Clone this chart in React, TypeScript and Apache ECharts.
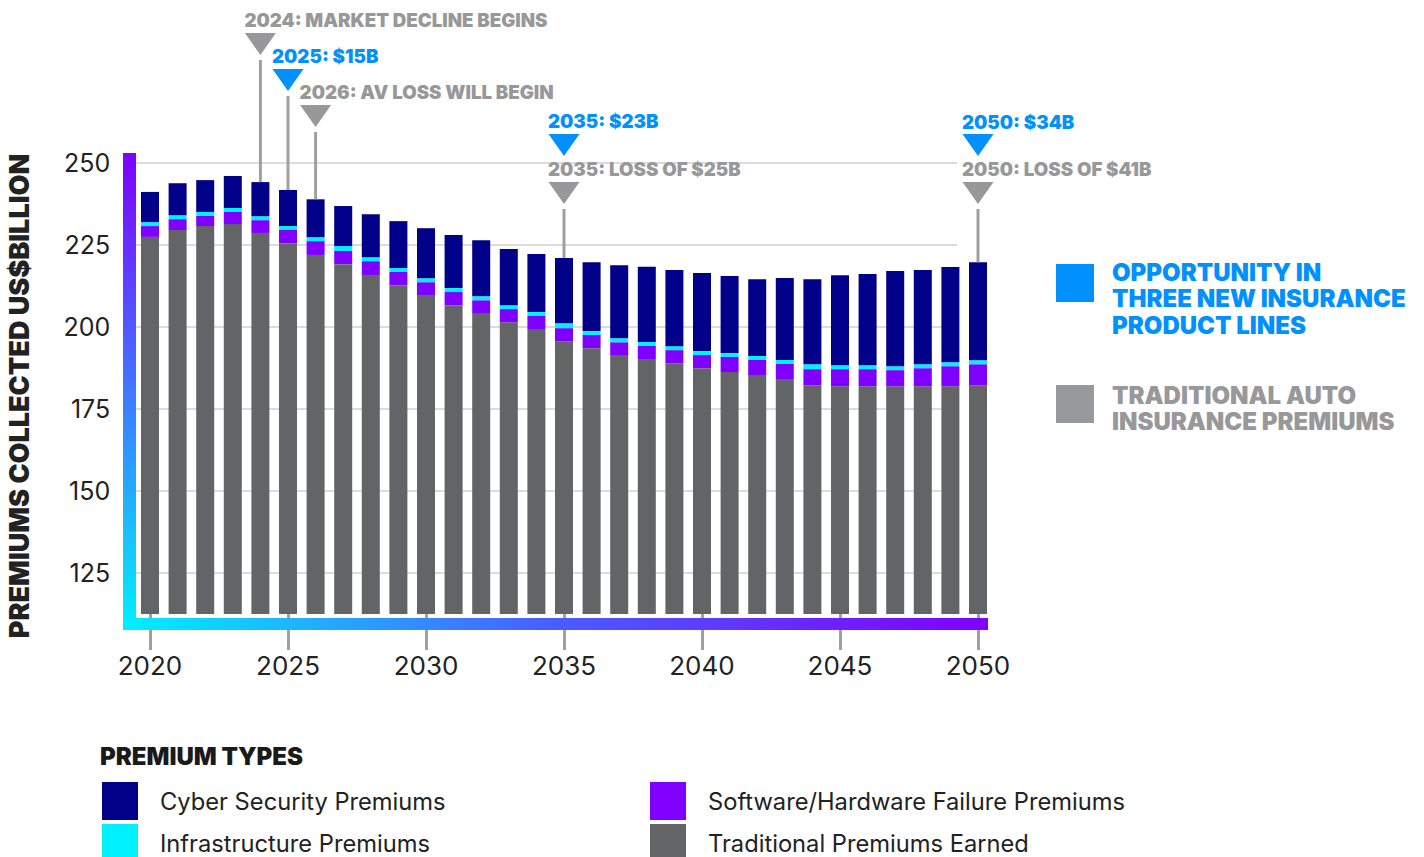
import React, { useEffect, useRef } from 'react';
import * as echarts from 'echarts';

const years = ['2020','2021','2022','2023','2024','2025','2026','2027','2028','2029','2030','2031','2032','2033','2034','2035','2036','2037','2038','2039','2040','2041','2042','2043','2044','2045','2046','2047','2048','2049','2050'];

const traditional = [227.4,229.5,230.7,231.3,228.6,225.5,221.9,219.1,215.8,212.7,209.7,206.6,204.2,201.4,199.3,195.6,193.5,191.4,190.2,188.9,187.4,186.2,185.3,184.1,182.2,181.9,181.9,181.9,181.9,181.9,182.2];
const software = [3.3,3.3,3.1,3.7,3.9,4.0,4.2,4.0,4.2,4.0,3.9,4.0,3.9,4.0,4.0,4.0,4.0,3.9,4.0,4.0,4.0,4.6,4.6,4.6,4.9,5.2,5.2,4.9,5.5,6.1,6.4];
const infrastructure = [1.2,1.2,1.2,1.2,1.2,1.2,1.2,1.5,1.2,1.2,1.2,1.2,1.2,1.2,1.2,1.5,1.2,1.2,1.2,1.2,1.2,1.2,1.2,1.2,1.5,1.2,1.2,1.2,1.2,1.2,1.2];
const cyber = [9.2,9.75,9.7,9.75,10.4,11.0,11.55,12.2,13.1,14.3,15.25,16.15,17.05,17.1,17.7,19.85,21.0,22.25,22.9,23.2,23.8,23.45,23.4,25.0,25.9,27.45,27.8,29.0,28.7,29.0,29.85];

const yTicks = [125, 150, 175, 200, 225, 250];
const xLabelStep = 5;

const seriesNames = ['Traditional Premiums Earned', 'Software/Hardware Failure Premiums', 'Infrastructure Premiums', 'Cyber Security Premiums'];

const annotYears = ['2024', '2025', '2026', '2035', '2035', '2050', '2050'];
const annotLabels = ['2024: MARKET DECLINE BEGINS', '2025: $15B', '2026: AV LOSS WILL BEGIN', '2035: $23B', '2035: LOSS OF $25B', '2050: $34B', '2050: LOSS OF $41B'];
const annotKinds = ['loss', 'opp', 'loss', 'opp', 'loss', 'opp', 'loss'];

// layout (pixels)
const annotTextY = [20, 56, 92, 121, 169, 122, 169];
const annotTriTop = [33, 69, 105, 134, 182, 134, 182];
// legend layout: [series index, left, top]
const legendSlots: [number, number, number][] = [[3, 97, 777], [2, 97, 819], [1, 645, 777], [0, 645, 819]];

const BLUE = '#0091ff';
const GREY_T = '#98989a';
const FONT = 'Inter, "Noto Sans", sans-serif';

export default function App() {
  const ref = useRef<HTMLDivElement>(null);
  useEffect(() => {
    document.body.style.margin = '0';
    const chart = echarts.init(ref.current!, null, { renderer: 'svg' });
    const colors = ['#636466', '#7f00ff', '#00f0ff', '#000088'];
    const dataSets = [traditional, software, infrastructure, cyber];
    const option: any = {
      animation: false,
      textStyle: { fontFamily: FONT },
      grid: { left: 136.2, width: 855.6, top: 121.7, height: 492.3, containLabel: false, outerBoundsMode: 'none' },
      xAxis: {
        type: 'category',
        data: years,
        axisLine: { show: false },
        axisTick: { show: true, alignWithLabel: true, interval: (i: number) => i % xLabelStep === 0, length: 36, lineStyle: { color: '#a0a0a2', width: 3 } },
        axisLabel: { interval: (i: number) => i % xLabelStep === 0, margin: 38, fontSize: 26, color: '#222', fontFamily: FONT },
        splitLine: { show: false },
      },
      yAxis: {
        type: 'value',
        min: 112.5,
        max: 262.5,
        interval: 12.5,
        axisLine: { show: false },
        axisTick: { show: false },
        splitLine: { show: false },
        axisLabel: {
          formatter: (v: number) => (yTicks.indexOf(v) >= 0 ? String(v) : ''),
          margin: 26, fontSize: 25, color: '#222', fontFamily: FONT,
        },
      },
      legend: legendSlots.map(([si, left, top]) => ({
        data: [seriesNames[si]], left, top,
        itemWidth: 36, itemHeight: 38, icon: 'rect', selectedMode: false,
        textStyle: { fontSize: 23.7, color: '#222', fontFamily: FONT, padding: [0, 0, 0, 17] },
      })),
      series: dataSets.map((d, i) => ({
        name: seriesNames[i],
        type: 'bar',
        stack: 'total',
        barWidth: 18,
        data: d,
        itemStyle: { color: colors[i] },
        z: 2,
      })),
    };
    chart.setOption(option);

    const totals = years.map((_, i) => traditional[i] + software[i] + infrastructure[i] + cyber[i]);
    const xPix = (y: string) => chart.convertToPixel({ xAxisIndex: 0 }, y) as number;
    const yPix = (v: number) => chart.convertToPixel({ yAxisIndex: 0 }, v) as number;

    const elements: any[] = [];
    // gridlines
    yTicks.forEach((t) => {
      const y = Math.round(yPix(t));
      elements.push({ type: 'line', z: 1, silent: true, shape: { x1: 136, y1: y, x2: 957, y2: y }, style: { stroke: '#dcdcdc', lineWidth: 2 } });
    });
    // gradient L axis
    const bottomY = yPix(112.5);
    elements.push({
      type: 'rect', z: 10, shape: { x: 123, y: 153, width: 13, height: bottomY + 16 - 153 },
      style: { fill: new echarts.graphic.LinearGradient(0, 0, 0, 1, [{ offset: 0, color: '#7f00ff' }, { offset: 1, color: '#00f0ff' }]) },
    });
    elements.push({
      type: 'rect', z: 10, shape: { x: 123, y: bottomY + 4, width: 988 - 123, height: 12 },
      style: { fill: new echarts.graphic.LinearGradient(0, 0, 1, 0, [{ offset: 0, color: '#00f0ff' }, { offset: 0.5, color: '#4a5cff' }, { offset: 1, color: '#8000ff' }]) },
    });
    // y axis title
    elements.push({
      type: 'text', z: 10, x: 19, y: 396, rotation: Math.PI / 2,
      style: { text: 'PREMIUMS COLLECTED US$BILLION', font: `900 27px ${FONT}`, fill: '#222', align: 'center', verticalAlign: 'middle' },
    });
    // annotations
    const lowestTri: Record<string, number> = {};
    annotYears.forEach((yr, i) => {
      const cx = xPix(yr);
      const col = annotKinds[i] === 'opp' ? BLUE : GREY_T;
      const top = annotTriTop[i];
      elements.push({ type: 'polygon', z: 10, shape: { points: [[cx - 15.5, top], [cx + 15.5, top], [cx, top + 22]] }, style: { fill: col } });
      elements.push({ type: 'text', z: 10, x: cx - 16, y: annotTextY[i], style: { text: annotLabels[i], font: `900 18.7px ${FONT}`, fill: col, align: 'left', verticalAlign: 'middle' } });
      lowestTri[yr] = Math.max(lowestTri[yr] || 0, top + 22);
    });
    Object.keys(lowestTri).forEach((yr) => {
      const cx = xPix(yr);
      const idx = years.indexOf(yr);
      const yTop = yPix(totals[idx]);
      elements.push({ type: 'line', z: 10, shape: { x1: cx, y1: lowestTri[yr] + 5, x2: cx, y2: yTop }, style: { stroke: '#a0a0a2', lineWidth: 3 } });
    });
    // right side legend
    elements.push({ type: 'rect', z: 10, shape: { x: 1056, y: 264, width: 38, height: 38 }, style: { fill: BLUE } });
    elements.push({ type: 'text', z: 10, x: 1112, y: 259, style: { text: 'OPPORTUNITY IN\nTHREE NEW INSURANCE\nPRODUCT LINES', font: `900 24px ${FONT}`, lineHeight: 26.5, fill: BLUE, align: 'left', verticalAlign: 'top' } });
    elements.push({ type: 'rect', z: 10, shape: { x: 1056, y: 385, width: 38, height: 38 }, style: { fill: '#98999b' } });
    elements.push({ type: 'text', z: 10, x: 1112, y: 382, style: { text: 'TRADITIONAL AUTO\nINSURANCE PREMIUMS', font: `900 24px ${FONT}`, lineHeight: 26.5, fill: GREY_T, align: 'left', verticalAlign: 'top' } });
    // bottom legend title
    elements.push({ type: 'text', z: 10, x: 100, y: 756, style: { text: 'PREMIUM TYPES', font: `900 24px ${FONT}`, fill: '#1a1a1a', align: 'left', verticalAlign: 'middle' } });

    chart.setOption({ graphic: { elements } });
    return () => chart.dispose();
  }, []);
  return <div ref={ref} style={{ width: 1424, height: 857 }} />;
}
